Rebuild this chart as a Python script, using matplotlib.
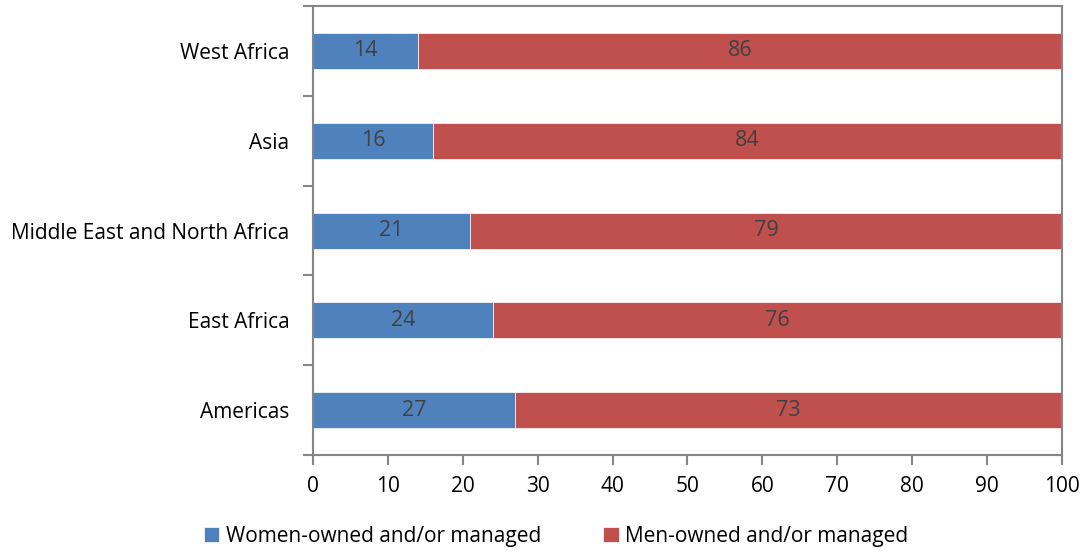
import matplotlib.pyplot as plt
import numpy as np

plt.rcParams['font.family'] = ['Open Sans', 'DejaVu Sans']

regions = ['Americas', 'East Africa', 'Middle East and North Africa', 'Asia', 'West Africa']
women = [27, 24, 21, 16, 14]
men = [73, 76, 79, 84, 86]

blue = '#4F81BD'
red = '#C0504D'
axis_grey = '#868686'
label_grey = '#404040'

fig = plt.figure(figsize=(10.84, 5.52), dpi=100)
ax = fig.add_axes([0.2887, 0.1757, 0.6910, 0.8133])

y = np.arange(len(regions))
b1 = ax.barh(y, women, height=0.4, color=blue, edgecolor='white', linewidth=0.5,
             label='Women-owned and/or managed')
b2 = ax.barh(y, men, left=women, height=0.4, color=red, edgecolor='white', linewidth=0.5,
             label='Men-owned and/or managed')

# data labels in the middle of each segment
for i in range(len(regions)):
    ax.text(women[i] / 2, y[i], str(women[i]), ha='center', va='center',
            fontsize=15.5, color=label_grey)
    ax.text(women[i] + men[i] / 2, y[i], str(men[i]), ha='center', va='center',
            fontsize=15.5, color=label_grey)

ax.set_xlim(0, 100)
ax.set_ylim(-0.5, len(regions) - 0.5)
ax.set_xticks(np.arange(0, 101, 10))
ax.set_yticks(y)
ax.set_yticklabels(regions)
ax.set_yticks(np.arange(-0.5, len(regions), 1), minor=True)
ax.tick_params(axis='y', which='major', length=0, pad=17, labelsize=15, labelcolor='black')
ax.tick_params(axis='y', which='minor', length=7, color=axis_grey, width=1.5)
ax.tick_params(axis='x', length=7, color=axis_grey, width=1.5, labelsize=15, pad=8)

for s in ax.spines.values():
    s.set_color(axis_grey)
    s.set_linewidth(1.5)

fig.legend(handles=[b1, b2], loc='lower center', ncol=2, frameon=False,
           fontsize=15, bbox_to_anchor=(0.513, -0.025), handlelength=0.75,
           handleheight=0.75, handletextpad=0.3, columnspacing=3.0)

fig.savefig('out.png', dpi=100)
